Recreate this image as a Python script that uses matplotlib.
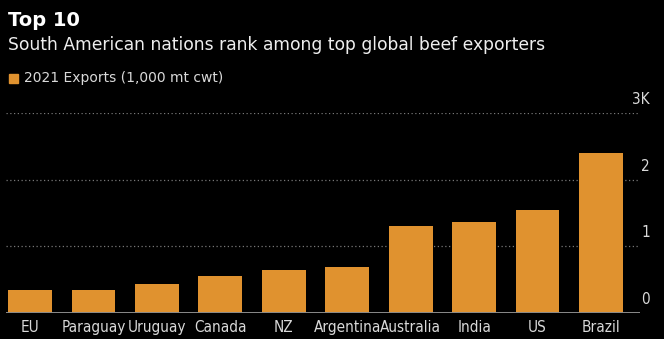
import matplotlib.pyplot as plt
from matplotlib.transforms import blended_transform_factory
from matplotlib.patches import Rectangle

countries = ["EU", "Paraguay", "Uruguay", "Canada", "NZ", "Argentina",
             "Australia", "India", "US", "Brazil"]
exports = [350, 350, 440, 560, 640, 690, 1300, 1370, 1550, 2400]
yticks = [0, 1000, 2000, 3000]
ytick_labels = ["0", "1", "2", "3K"]

bg = "#000000"
orange = "#E0922F"
txt = "#d9d9d9"
fonts = ["DejaVu Sans"]

W, H = 664, 339
fig = plt.figure(figsize=(W / 100, H / 100), dpi=100, facecolor=bg)
ax = fig.add_axes([6 / W, (H - 313) / H, (640 - 6) / W, 200 / H], facecolor=bg)

x = range(len(countries))
ax.bar(x, exports, width=0.69, color=orange, zorder=2)
ax.set_xlim(-0.378, 9.615)
ax.set_ylim(0, 3000)

for v in yticks[1:]:
    ax.axhline(v, color="#777777", lw=0.9, ls=(0, (1, 2)), zorder=1)
ax.axhline(0, color="#8a8a8a", lw=1.4, zorder=3)

for s in ax.spines.values():
    s.set_visible(False)
ax.set_yticks([])
ax.set_xticks(list(x))
ax.set_xticklabels(countries, color=txt, fontsize=11, family=fonts,
                   stretch="condensed")
ax.tick_params(axis="x", length=0, pad=5)

tr = blended_transform_factory(fig.transFigure, ax.transData)
for v, lab in zip(yticks, ytick_labels):
    ax.text(650 / W, v + 90, lab, transform=tr, ha="right", va="bottom",
            color=txt, fontsize=11, family=fonts, stretch="condensed")

fig.text(8 / W, 1 - 20 / H, "Top 10", color="white", fontsize=14,
         fontweight="bold", va="center", family=fonts)
fig.text(8 / W, 1 - 45 / H, "South American nations rank among top global beef exporters",
         color="#eeeeee", fontsize=12.3, va="center", family=fonts)
fig.patches.append(Rectangle((9 / W, 1 - 83 / H), 9 / W, 9 / H,
                             transform=fig.transFigure, color=orange))
fig.text(24 / W, 1 - 78 / H, "2021 Exports (1,000 mt cwt)", color=txt,
         fontsize=10, va="center", family=fonts)

fig.savefig("out.png", dpi=100, facecolor=bg)
